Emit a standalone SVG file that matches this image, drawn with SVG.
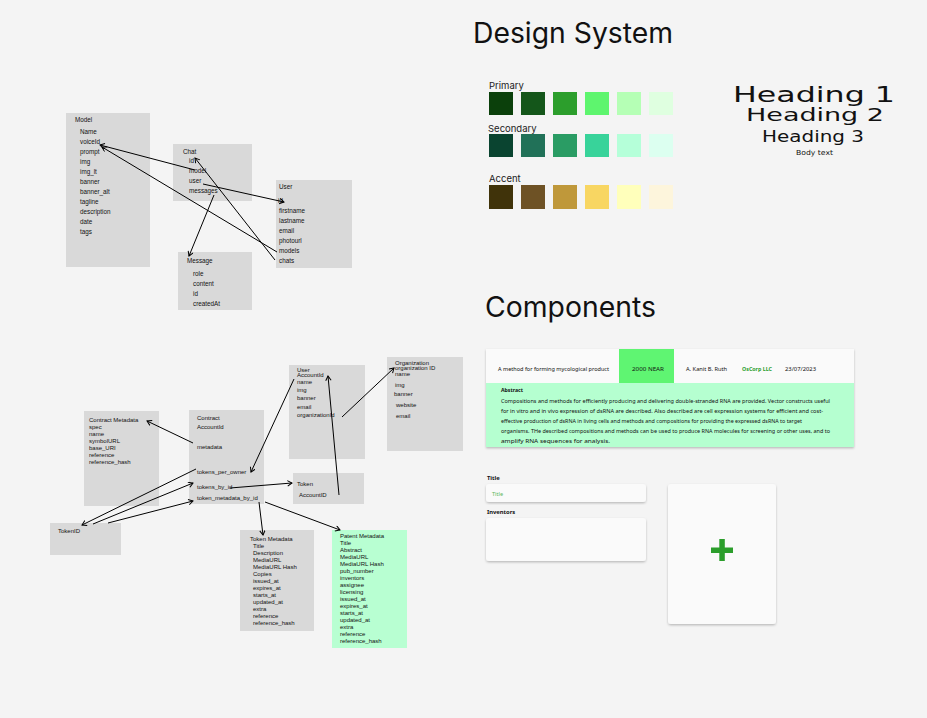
<svg xmlns="http://www.w3.org/2000/svg" width="927" height="718" viewBox="0 0 927 718">
<defs>
<marker id="arr" markerUnits="userSpaceOnUse" markerWidth="8" markerHeight="8" refX="5" refY="3" orient="auto">
<path d="M0.5,0.3 L5,3 L0.5,5.7" fill="none" stroke="#000" stroke-width="1"/>
</marker>
<filter id="sh" x="-5%" y="-5%" width="110%" height="120%">
<feDropShadow dx="0" dy="1.2" stdDeviation="0.8" flood-color="#000" flood-opacity="0.25"/>
</filter>
</defs>
<style>
.box{fill:#d9d9d9}
.t{font-family:"Liberation Sans",Arial,sans-serif;font-size:6.3px;fill:#111}
.s{font-family:"Liberation Sans",Arial,sans-serif;font-size:6px;fill:#111}
.big{font-family:Inter,"Liberation Sans",sans-serif;font-size:28px;fill:#111}
.lab{font-family:Inter,"Liberation Sans",sans-serif;font-size:9.5px;fill:#222}
.hd{font-family:"DejaVu Sans","Liberation Sans",sans-serif;fill:#111}
.c{font-family:"Noto Sans","Liberation Sans",sans-serif;font-size:5.6px;fill:#111}
.cb{font-family:"Noto Sans","Liberation Sans",sans-serif;font-size:5.8px;font-weight:bold;fill:#111}
.conn line{stroke:#000;stroke-width:1;marker-end:url(#arr)}
</style>
<rect width="927" height="718" fill="#f4f4f4"/>

<g id="model">
<rect class="box" x="66" y="113" width="84" height="154"/>
<text class="t" x="75" y="122">Model</text>
<text class="t" x="80" y="134">Name</text>
<text class="t" x="80" y="144">voiceId</text>
<text class="t" x="80" y="154">prompt</text>
<text class="t" x="80" y="164">img</text>
<text class="t" x="80" y="174">img_lt</text>
<text class="t" x="80" y="184">banner</text>
<text class="t" x="80" y="194">banner_alt</text>
<text class="t" x="80" y="204">tagline</text>
<text class="t" x="80" y="214">description</text>
<text class="t" x="80" y="224">date</text>
<text class="t" x="80" y="234">tags</text>
</g>
<g id="chat">
<rect class="box" x="173" y="144" width="79" height="57"/>
<text class="t" x="183" y="154">Chat</text>
<text class="t" x="189" y="163">id</text>
<text class="t" x="189" y="173">model</text>
<text class="t" x="189" y="183">user</text>
<text class="t" x="189" y="193">messages</text>
</g>
<g id="user">
<rect class="box" x="276" y="180" width="76" height="88"/>
<text class="t" x="279" y="189">User</text>
<text class="t" x="278" y="203">id</text>
<text class="t" x="279" y="213">firstname</text>
<text class="t" x="279" y="223">lastname</text>
<text class="t" x="279" y="233">email</text>
<text class="t" x="279" y="243">photourl</text>
<text class="t" x="279" y="253">models</text>
<text class="t" x="279" y="263">chats</text>
</g>
<g id="message">
<rect class="box" x="178" y="252" width="74" height="58"/>
<text class="t" x="187" y="263">Message</text>
<text class="t" x="193" y="276">role</text>
<text class="t" x="193" y="286">content</text>
<text class="t" x="193" y="296">id</text>
<text class="t" x="193" y="306">createdAt</text>
</g>

<g id="contract-metadata">
<rect class="box" x="84" y="411" width="75" height="95"/>
<text class="s" x="89" y="422">Contract Metadata</text>
<text class="s" x="89" y="429">spec</text>
<text class="s" x="89" y="436">name</text>
<text class="s" x="89" y="443">symbolURL</text>
<text class="s" x="89" y="450">base_URI</text>
<text class="s" x="89" y="457">reference</text>
<text class="s" x="89" y="464">reference_hash</text>
</g>
<g id="contract">
<rect class="box" x="189" y="410" width="75" height="94"/>
<text class="s" x="197" y="420">Contract</text>
<text class="s" x="197" y="429">AccountId</text>
<text class="s" x="197" y="449">metadata</text>
<text class="s" x="197" y="474">tokens_per_owner</text>
<text class="s" x="197" y="489">tokens_by_id</text>
<text class="s" x="197" y="500">token_metadata_by_id</text>
</g>
<g id="tokenid">
<rect class="box" x="50" y="523" width="71" height="32"/>
<text class="s" x="58" y="533">TokenID</text>
</g>
<g id="user2">
<rect class="box" x="289" y="365" width="76" height="94"/>
<text class="s" x="297" y="372">User</text>
<text class="s" x="297" y="377">AccountId</text>
<text class="s" x="297" y="384">name</text>
<text class="s" x="297" y="392">img</text>
<text class="s" x="297" y="400">banner</text>
<text class="s" x="297" y="409">email</text>
<text class="s" x="297" y="417">organizationId</text>
</g>
<g id="token">
<rect class="box" x="293" y="473" width="71" height="31"/>
<text class="s" x="297" y="486">Token</text>
<text class="s" x="299" y="497">AccountID</text>
</g>
<g id="organization">
<rect class="box" x="387" y="357" width="76" height="94"/>
<text class="s" x="395" y="365">Organization</text>
<text class="s" x="395" y="369.5">organization ID</text>
<text class="s" x="395" y="376">name</text>
<text class="s" x="395" y="387">img</text>
<text class="s" x="394" y="396">banner</text>
<text class="s" x="396" y="407">website</text>
<text class="s" x="396" y="418">email</text>
</g>
<g id="token-metadata">
<rect class="box" x="240" y="530" width="74" height="101"/>
<text class="s" x="250" y="541">Token Metadata</text>
<text class="s" x="253" y="548">Title</text>
<text class="s" x="253" y="555">Description</text>
<text class="s" x="253" y="562">MediaURL</text>
<text class="s" x="253" y="569">MediaURL Hash</text>
<text class="s" x="253" y="576">Copies</text>
<text class="s" x="253" y="583">issued_at</text>
<text class="s" x="253" y="590">expires_at</text>
<text class="s" x="253" y="597">starts_at</text>
<text class="s" x="253" y="604">updated_at</text>
<text class="s" x="253" y="611">extra</text>
<text class="s" x="253" y="618">reference</text>
<text class="s" x="253" y="625">reference_hash</text>
</g>
<g id="patent-metadata">
<rect x="332" y="530" width="75" height="118" fill="#b8ffd2"/>
<text class="s" x="340" y="538">Patent Metadata</text>
<text class="s" x="340" y="544.5">Title</text>
<text class="s" x="340" y="551.5">Abstract</text>
<text class="s" x="340" y="558.5">MediaURL</text>
<text class="s" x="340" y="565.5">MediaURL Hash</text>
<text class="s" x="340" y="572.5">pub_number</text>
<text class="s" x="340" y="579.5">inventors</text>
<text class="s" x="340" y="586.5">assignee</text>
<text class="s" x="340" y="593.5">licensing</text>
<text class="s" x="340" y="600.5">issued_at</text>
<text class="s" x="340" y="607.5">expires_at</text>
<text class="s" x="340" y="614.5">starts_at</text>
<text class="s" x="340" y="621.5">updated_at</text>
<text class="s" x="340" y="628.5">extra</text>
<text class="s" x="340" y="635.5">reference</text>
<text class="s" x="340" y="642.5">reference_hash</text>
</g>

<g id="connectors" class="conn">
<line x1="195" y1="170" x2="100" y2="145"/>
<line x1="277" y1="252" x2="102" y2="147"/>
<line x1="203" y1="184" x2="284" y2="202"/>
<line x1="275" y1="260" x2="195" y2="158"/>
<line x1="214" y1="195" x2="189" y2="256"/>
<line x1="193" y1="443" x2="147" y2="421"/>
<line x1="196" y1="469" x2="82" y2="525"/>
<line x1="93" y1="524" x2="193" y2="483"/>
<line x1="108" y1="523" x2="193" y2="501"/>
<line x1="294" y1="379" x2="251" y2="472"/>
<line x1="230" y1="488" x2="292" y2="483"/>
<line x1="259" y1="502" x2="263" y2="535"/>
<line x1="265" y1="502" x2="340" y2="530"/>
<line x1="339" y1="495" x2="328" y2="376"/>
<line x1="342" y1="417" x2="394" y2="368"/>
</g>

<g id="design-system">
<text class="big" x="473" y="43" textLength="200" lengthAdjust="spacingAndGlyphs">Design System</text>
<text class="lab" x="489" y="89">Primary</text>
<rect x="489" y="92" width="24" height="23" fill="#0b400b"/>
<rect x="521" y="92" width="24" height="23" fill="#14561a"/>
<rect x="553" y="92" width="24" height="23" fill="#2c9e2c"/>
<rect x="585" y="92" width="24" height="23" fill="#5ef56e"/>
<rect x="617" y="92" width="24" height="23" fill="#b5ffb5"/>
<rect x="649" y="92" width="24" height="23" fill="#dfffe0"/>
<text class="lab" x="488" y="132">Secondary</text>
<rect x="489" y="134" width="24" height="23" fill="#0a4430"/>
<rect x="521" y="134" width="24" height="23" fill="#217158"/>
<rect x="553" y="134" width="24" height="23" fill="#2a9c64"/>
<rect x="585" y="134" width="24" height="23" fill="#38d39a"/>
<rect x="617" y="134" width="24" height="23" fill="#b5ffd9"/>
<rect x="649" y="134" width="24" height="23" fill="#dcfff0"/>
<text class="lab" x="489" y="182">Accent</text>
<rect x="489" y="185" width="24" height="24" fill="#40330a"/>
<rect x="521" y="185" width="24" height="24" fill="#6e5225"/>
<rect x="553" y="185" width="24" height="24" fill="#bf983a"/>
<rect x="585" y="185" width="24" height="24" fill="#f8d662"/>
<rect x="617" y="185" width="24" height="24" fill="#ffffbb"/>
<rect x="649" y="185" width="24" height="24" fill="#fdf5dc"/>
</g>
<g id="typography">
<text class="hd" x="733" y="102" font-size="22" textLength="162" lengthAdjust="spacingAndGlyphs">Heading 1</text>
<text class="hd" x="746" y="121" font-size="17.5" textLength="138" lengthAdjust="spacingAndGlyphs">Heading 2</text>
<text class="hd" x="762" y="142" font-size="15" textLength="102" lengthAdjust="spacingAndGlyphs">Heading 3</text>
<text class="hd" x="796" y="155" font-size="7" textLength="37" lengthAdjust="spacingAndGlyphs">Body text</text>
</g>

<g id="components">
<text class="big" x="485" y="317" textLength="171" lengthAdjust="spacingAndGlyphs">Components</text>
</g>
<g id="patent-card">
<g filter="url(#sh)">
<rect x="486" y="349" width="368" height="98" fill="#b5ffd0"/>
<rect x="486" y="349" width="368" height="34" fill="#fafafa"/>
</g>
<rect x="619" y="349" width="55" height="34" fill="#5ff572"/>
<text class="c" x="498" y="371" textLength="111" lengthAdjust="spacingAndGlyphs">A method for forming mycological product</text>
<text class="c" x="632" y="371" textLength="32" lengthAdjust="spacingAndGlyphs">2000 NEAR</text>
<text class="c" x="686" y="371" textLength="41" lengthAdjust="spacingAndGlyphs">A. Kanit B. Ruth</text>
<text class="cb" x="742" y="371" style="fill:#2c9e2c" textLength="30" lengthAdjust="spacingAndGlyphs">OsCorp LLC</text>
<text class="c" x="785" y="371" textLength="31" lengthAdjust="spacingAndGlyphs">23/07/2023</text>
<text class="cb" x="501" y="392" textLength="22" lengthAdjust="spacingAndGlyphs">Abstract</text>
<text class="c" x="501" y="403" textLength="329" lengthAdjust="spacingAndGlyphs">Compositions and methods for efficiently producing and delivering double-stranded RNA are provided. Vector constructs useful</text>
<text class="c" x="501" y="413" textLength="322" lengthAdjust="spacingAndGlyphs">for in vitro and in vivo expression of dsRNA are described. Also described are cell expression systems for efficient and cost-</text>
<text class="c" x="501" y="423" textLength="301" lengthAdjust="spacingAndGlyphs">effective production of dsRNA in living cells and methods and compositions for providing the expressed dsRNA to target</text>
<text class="c" x="501" y="433" textLength="329" lengthAdjust="spacingAndGlyphs">organisms.  THe described compositions and methods can be used to produce RNA molecules for screening or other uses, and to</text>
<text class="c" x="501" y="443" textLength="109" lengthAdjust="spacingAndGlyphs">amplify RNA sequences for analysis.</text>
</g>
<g id="form">
<text class="cb" x="487" y="480">Title</text>
<rect x="486" y="484" width="160" height="18" rx="3" fill="#fafafa" filter="url(#sh)"/>
<text class="c" x="492" y="496" style="fill:#5cb85c">Title</text>
<text class="cb" x="487" y="514">Inventors</text>
<rect x="486" y="518" width="160" height="43" rx="3" fill="#fafafa" filter="url(#sh)"/>
</g>
<g id="add-card">
<rect x="668" y="484" width="108" height="140" rx="3" fill="#fafafa" filter="url(#sh)"/>
<rect x="711" y="547.5" width="22" height="5.5" fill="#2c9e2c"/>
<rect x="719.3" y="539" width="5.5" height="22" fill="#2c9e2c"/>
</g>
</svg>
